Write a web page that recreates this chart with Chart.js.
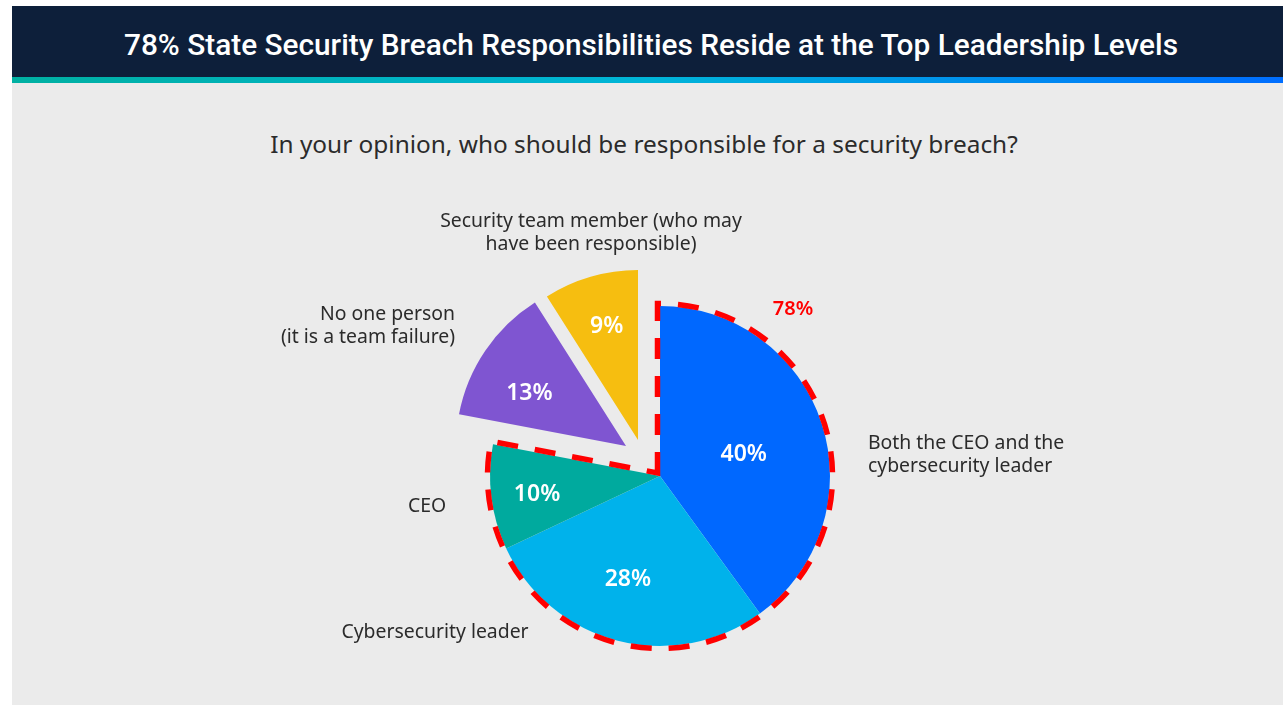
<!DOCTYPE html>
<html>
<head>
<meta charset="utf-8">
<title>Security breach responsibility</title>
<script src="https://cdn.jsdelivr.net/npm/chart.js@4.4.1/dist/chart.umd.min.js"></script>
<style>
  html, body { margin: 0; padding: 0; background: #fff; }
  body { position: relative; width: 1283px; height: 707px; overflow: hidden; font-family: 'Noto Sans', sans-serif; }
  .header { position: absolute; left: 12px; top: 6px; width: 1271px; height: 71px; background: #0d1f3a; }
  .stripe { position: absolute; left: 12px; top: 77px; width: 1271px; height: 6px;
            background: linear-gradient(90deg, #00b0a2 0%, #00b5d8 50%, #006eff 100%); }
  .panel  { position: absolute; left: 12px; top: 83px; width: 1271px; height: 622px; background: #ebebeb; }
  #title { position: absolute; left: 124px; top: 30px; margin: 0; white-space: nowrap;
           font-family: Roboto, 'Noto Sans', sans-serif; font-weight: 500; font-size: 30px; line-height: 1;
           color: #fff; transform-origin: 0 0; }
  #subtitle { position: absolute; left: 0; width: 1288px; top: 132px; margin: 0; text-align: center;
              font-size: 24.4px; line-height: 1; color: #2b2b2b; }
  #chart { position: absolute; left: 0; top: 0; }
</style>
</head>
<body>
<div class="header"></div>
<div class="stripe"></div>
<div class="panel"></div>
<h1 id="title">78% State Security Breach Responsibilities Reside at the Top Leadership Levels</h1>
<p id="subtitle">In your opinion, who should be responsible for a security breach?</p>
<canvas id="chart" width="1283" height="707"></canvas>

<script>
// answers, in drawing order (clockwise from 12 o'clock)
var categories = [
  ['Both the CEO and the', 'cybersecurity leader'],
  ['Cybersecurity leader'],
  ['CEO'],
  ['No one person', '(it is a team failure)'],
  ['Security team member (who may', 'have been responsible)']
];
var values = [40, 28, 10, 13, 9];
var colors = ['#0068ff', '#00b2eb', '#00aa9e', '#7f55d1', '#f6be10'];
// answers that put the breach on top leadership
var leadership = [0, 1, 2];

// slices pulled out of the pie, in px
var sliceShift = { 3: [-34, -30], 4: [-22, -36] };

// where the value sits inside each slice: share of the sweep, share of the radius
var valueSweep = [0.52, 0.53, 0.48, 0.39, 0.53];
var valueRadius = [0.51, 0.63, 0.73, 0.65, 0.70];

// category labels, relative to the pie centre (dy = first baseline)
var calloutLayout = [
  { dx: 208, dy: -27, align: 'left' },
  { dx: -225, dy: 162, align: 'center' },
  { dx: -233, dy: 36, align: 'center' },
  { dx: -205, dy: -156, align: 'right' },
  { dx: -69, dy: -249, align: 'center' }
];
var groupLabel = { dx: 133, dy: -161 };

// squeeze the header title to its box
var title = document.getElementById('title');
title.style.transform = 'scaleX(' + (1054 / title.getBoundingClientRect().width) + ')';

var explode = {
  id: 'explode',
  beforeDatasetDraw: function (chart, args) {
    var ctx = chart.ctx;
    args.meta.data.forEach(function (arc, i) {
      var s = sliceShift[i] || [0, 0];
      ctx.save();
      ctx.translate(s[0], s[1]);
      arc.draw(ctx);
      ctx.restore();
    });
    return false;
  }
};

var annotate = {
  id: 'annotate',
  afterDatasetsDraw: function (chart) {
    var ctx = chart.ctx;
    var arcs = chart.getDatasetMeta(0).data;
    var cx = arcs[0].x, cy = arcs[0].y;

    // dashed outline round the leadership group
    var gap = 2.5;
    var a1 = arcs[leadership[0]].startAngle;
    var a2 = arcs[leadership[leadership.length - 1]].endAngle;
    var R = arcs[0].outerRadius + gap;
    var n1 = [Math.sin(a1), -Math.cos(a1)];
    var n2 = [-Math.sin(a2), Math.cos(a2)];
    var det = n1[0] * n2[1] - n1[1] * n2[0];
    var vx = cx + (gap * n2[1] - n1[1] * gap) / det;
    var vy = cy + (n1[0] * gap - gap * n2[0]) / det;
    var da = Math.asin(gap / R);
    ctx.save();
    ctx.beginPath();
    ctx.moveTo(vx, vy);
    ctx.arc(cx, cy, R, a1 - da, a2 + da);
    ctx.closePath();
    ctx.setLineDash([21, 17]);
    ctx.lineWidth = 5.5;
    ctx.strokeStyle = '#ff0000';
    ctx.stroke();
    ctx.restore();

    var total = 0;
    leadership.forEach(function (i) { total += values[i]; });
    ctx.save();
    ctx.fillStyle = '#ff0000';
    ctx.font = '600 20px "Noto Sans"';
    ctx.textAlign = 'center';
    ctx.fillText(total + '%', cx + groupLabel.dx, cy + groupLabel.dy);
    ctx.restore();

    // values inside the slices
    ctx.save();
    ctx.fillStyle = '#ffffff';
    ctx.font = '600 23px "Noto Sans"';
    ctx.textAlign = 'center';
    arcs.forEach(function (arc, i) {
      var s = sliceShift[i] || [0, 0];
      var a = arc.startAngle + (arc.endAngle - arc.startAngle) * valueSweep[i];
      var r = arc.outerRadius * valueRadius[i];
      ctx.fillText(values[i] + '%', arc.x + s[0] + Math.cos(a) * r, arc.y + s[1] + Math.sin(a) * r + 8);
    });
    ctx.restore();

    // category labels
    ctx.save();
    ctx.fillStyle = '#2b2b2b';
    ctx.font = '19.4px "Noto Sans"';
    categories.forEach(function (lines, i) {
      var l = calloutLayout[i];
      ctx.textAlign = l.align;
      lines.forEach(function (line, k) {
        ctx.fillText(line, cx + l.dx, cy + l.dy + k * 23);
      });
    });
    ctx.restore();
  }
};

new Chart(document.getElementById('chart'), {
  type: 'pie',
  data: {
    labels: categories.map(function (c) { return c.join(' '); }),
    datasets: [{
      data: values,
      backgroundColor: colors,
      borderWidth: 0
    }]
  },
  options: {
    responsive: false,
    animation: false,
    layout: { padding: { left: 490, right: 453, top: 306, bottom: 61 } },
    plugins: {
      legend: { display: false },
      tooltip: { enabled: false }
    }
  },
  plugins: [explode, annotate]
});
</script>
</body>
</html>
